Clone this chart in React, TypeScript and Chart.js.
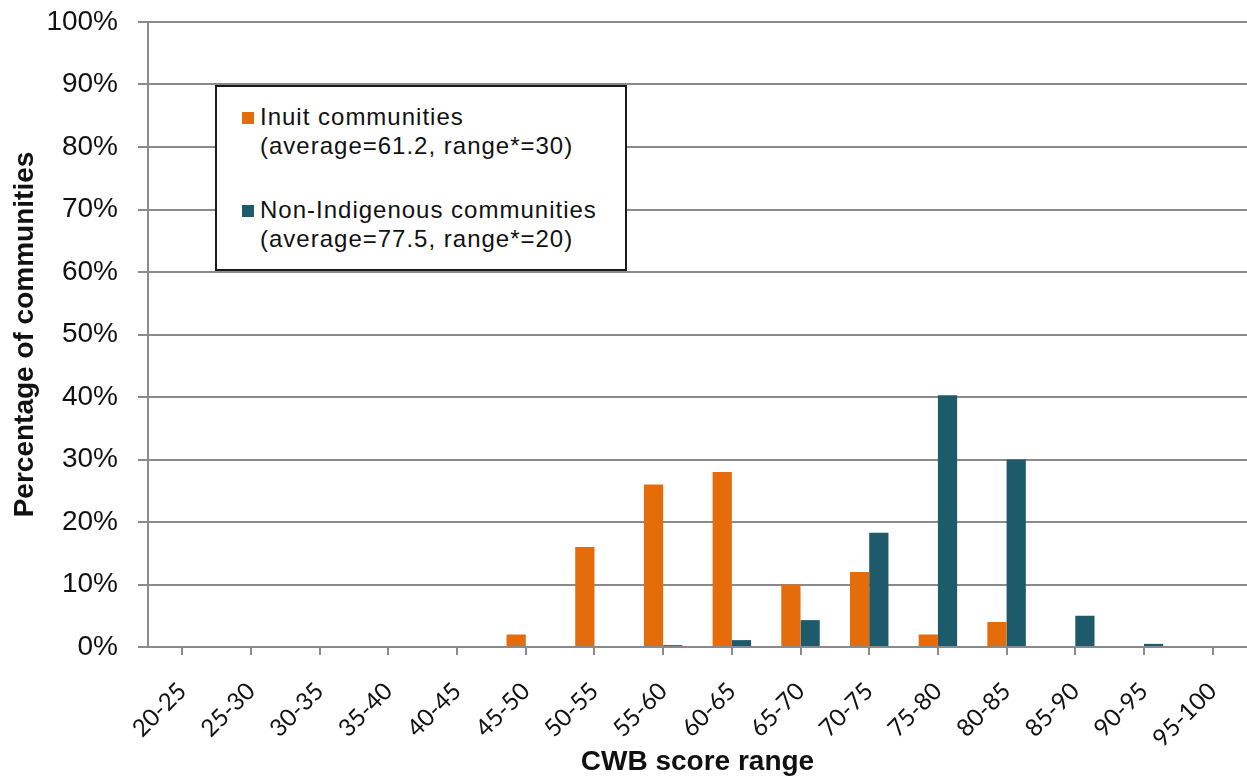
import React, { useEffect, useRef } from "react";
import { Chart, registerables } from "chart.js";

Chart.register(...registerables);

const categories = [
  "20-25", "25-30", "30-35", "35-40", "40-45", "45-50", "50-55", "55-60",
  "60-65", "65-70", "70-75", "75-80", "80-85", "85-90", "90-95", "95-100",
];
const inuitValues = [0, 0, 0, 0, 0, 2, 16, 26, 28, 10, 12, 2, 4, 0, 0, 0];
const nonIndigenousValues = [0, 0, 0, 0, 0, 0, 0, 0.3, 1.1, 4.3, 18.3, 40.3, 30, 5, 0.5, 0];
const yTicks = [0, 10, 20, 30, 40, 50, 60, 70, 80, 90, 100];

const legendItems = [
  { color: "#E46C0A", line1: "Inuit communities", line2: "(average=61.2, range*=30)" },
  { color: "#1D5A6C", line1: "Non-Indigenous communities", line2: "(average=77.5, range*=20)" },
];

const GRID = "#8a8a8a";

export default function App() {
  const ref = useRef<HTMLCanvasElement | null>(null);

  useEffect(() => {
    if (!ref.current) return;
    const chart = new Chart(ref.current, {
      type: "bar",
      data: {
        labels: categories,
        datasets: [
          {
            label: "Inuit communities",
            data: inuitValues,
            backgroundColor: legendItems[0].color,
            categoryPercentage: 0.56,
            barPercentage: 1.0,
          },
          {
            label: "Non-Indigenous communities",
            data: nonIndigenousValues,
            backgroundColor: legendItems[1].color,
            categoryPercentage: 0.56,
            barPercentage: 1.0,
          },
        ],
      },
      options: {
        animation: false,
        responsive: true,
        maintainAspectRatio: false,
        layout: { padding: { top: 22, right: 0, bottom: 0, left: 0 } },
        plugins: {
          legend: { display: false },
          tooltip: { enabled: false },
        },
        scales: {
          x: {
            offset: true,
            grid: {
              offset: false,
              drawOnChartArea: false,
              drawTicks: true,
              tickLength: 8,
              color: GRID,
              lineWidth: 2,
            },
            border: { color: GRID, width: 2 },
            ticks: {
              maxRotation: 45,
              minRotation: 45,
              padding: 22,
              color: "#111",
              font: { family: "Lato", size: 24 },
            },
            title: {
              display: true,
              text: "CWB score range",
              color: "#111",
              font: { family: "Liberation Sans", size: 28, weight: "bold" },
              padding: { top: 0, bottom: 1 },
            },
            afterFit: (scale: any) => {
              scale.height = 133;
              scale.paddingLeft = 0;
              scale.paddingRight = 0;
            },
          },
          y: {
            min: 0,
            max: 100,
            afterBuildTicks: (scale: any) => {
              scale.ticks = yTicks.map((v) => ({ value: v }));
            },
            grid: {
              color: GRID,
              lineWidth: 2,
              drawTicks: true,
              tickLength: 10,
            },
            border: { color: GRID, width: 2 },
            ticks: {
              padding: 20,
              color: "#111",
              font: { family: "Liberation Sans", size: 28 },
              callback: (v: any) => `${v}%`,
            },
            title: {
              display: true,
              text: "Percentage of communities",
              color: "#111",
              font: { family: "Liberation Sans", size: 28, weight: "bold" },
              padding: { top: 8, bottom: 0 },
            },
            afterFit: (scale: any) => {
              scale.width = 148;
              scale.paddingTop = 0;
              scale.paddingBottom = 0;
            },
          },
        },
      },
    });
    return () => chart.destroy();
  }, []);

  return (
    <div style={{ position: "absolute", left: 0, top: 0, width: 1247, height: 780, background: "#fff" }}>
      <canvas ref={ref} />
      <div
        style={{
          position: "absolute",
          left: 215,
          top: 85,
          width: 412,
          height: 186,
          boxSizing: "border-box",
          border: "2px solid #1a1a1a",
          background: "#fff",
          fontFamily: "'Liberation Sans', Arial, sans-serif",
          fontSize: 24,
          letterSpacing: "1px",
          color: "#111",
        }}
      >
        {legendItems.map((it, i) => (
          <div key={i} style={{ position: "absolute", left: 43, top: i === 0 ? 15 : 108, lineHeight: "29px", whiteSpace: "nowrap" }}>
            <span
              style={{
                position: "absolute",
                left: -18,
                top: 10,
                width: 12,
                height: 12,
                background: it.color,
              }}
            />
            <div>{it.line1}</div>
            <div>{it.line2}</div>
          </div>
        ))}
      </div>
    </div>
  );
}
